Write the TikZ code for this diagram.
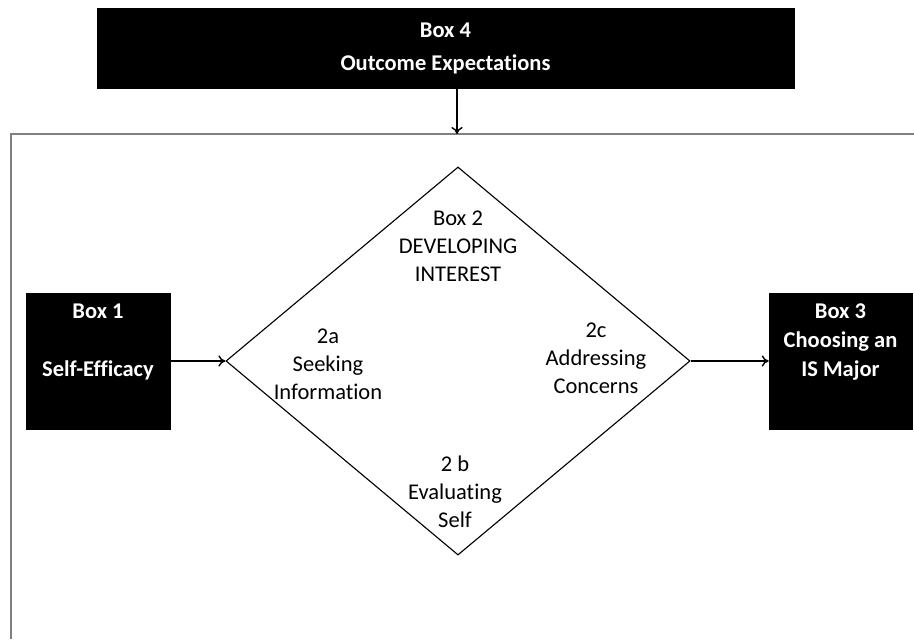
\documentclass[tikz,border=0pt]{standalone}
\usepackage{fontspec}
\setmainfont{Carlito}[Ligatures=NoCommon]
\usetikzlibrary{shapes.geometric,arrows.meta}

\begin{document}
\begin{tikzpicture}[x=0.025cm,y=-0.025cm,
  darkbox/.style={draw=black,fill=black,text=white,inner sep=0pt,align=center,
    font=\fontsize{16}{20.5}\selectfont\bfseries},
  stagetext/.style={align=center,font=\fontsize{16}{20}\selectfont},
  link/.style={-{To[length=5pt,width=8pt]}, line width=1pt}]
\useasboundingbox (0,0) rectangle (914,639);
% Draw the frame
\coordinate (frametop) at (457,134);
\draw[black!50, line width=1.5pt] (11,639) -- (11,134) -- (914,134);
% Outcome expectations on top
\node[darkbox, minimum width=17.425cm, minimum height=2cm] (box4) at (445.5,48)
  {Box 4\\[3pt]Outcome Expectations};
\draw[link] (box4.south -| frametop) -- (frametop);
% Self-efficacy and IS major
\node[darkbox, minimum width=3.6cm, minimum height=3.4cm] (box1) at (98,361)
  {\parbox[c][3.4cm][t]{3.6cm}{\centering\rule{0pt}{0.65cm}Box 1\\[20.5pt]Self-Efficacy}};
\node[darkbox, minimum width=3.575cm, minimum height=3.4cm] (box3) at (840.5,361)
  {\parbox[c][3.4cm][t]{3.575cm}{\centering\rule{0pt}{0.65cm}Box 3\\Choosing an\\IS Major}};
% Developing interest
\node[draw, diamond, minimum width=11.6cm, minimum height=9.7cm, inner sep=0pt,
  line width=0.8pt] (box2) at (458,361) {};
\node[stagetext] (interest) at (458,246) {Box 2\\DEVELOPING\\INTEREST};
\node[stagetext] (seek) at (328,364) {2a\\Seeking\\Information};
\node[stagetext] (concern) at (596,358) {2c\\Addressing\\Concerns};
\node[stagetext] (evaluate) at (455,492) {2 b\\Evaluating\\Self};
% Arrows
\draw[link] (box1.east) -- (box2.west);
\draw[link] (box2.east) -- (box3.west);
\end{tikzpicture}
\end{document}
